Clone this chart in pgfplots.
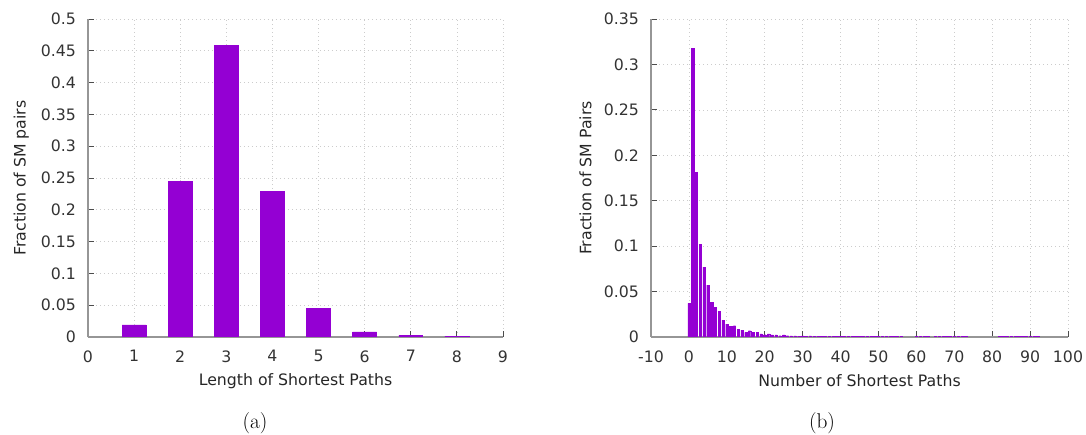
\documentclass[border=0pt]{standalone}
\usepackage{pgfplots}
\pgfplotsset{compat=1.18}
\usepackage{fontspec}
\newfontfamily\dejavu{DejaVu Sans}
\definecolor{gpviolet}{RGB}{148,0,211}
\definecolor{axgray}{RGB}{150,150,150}
\begin{document}
\begin{tikzpicture}
\useasboundingbox (0,0) rectangle (814.5pt,326.25pt);
\pgfplotsset{
  gp/.style={
    scale only axis, height=238.5pt,
    axis lines*=left,
    axis line style={draw=axgray, line width=0.8pt},
    tick align=inside,
    major tick length=4.5pt,
    tick style={draw=black!70, line width=0.6pt},
    grid=major,
    grid style={draw=gray!40, line width=0.5pt, dash pattern=on 0.6pt off 2.4pt},
    /pgf/number format/assume math mode=true,
    /pgf/number format/fixed,
    /pgf/number format/precision=2,
    scaled y ticks=false,
    ticklabel style={font=\dejavu\fontsize{11.8}{13}\selectfont, text=black!80},
    xticklabel style={yshift=-6.5pt},
    yticklabel style={xshift=-5.5pt},
    label style={font=\dejavu\fontsize{11.8}{13}\selectfont, text=black!85},
    ymin=0,
  }
}
% ---- left plot ----
\begin{axis}[gp, width=311.25pt, at={(66pt,73.5pt)}, anchor=south west,
  xmin=0, xmax=9, ymax=0.5,
  xtick={0,1,...,9},
  ytick={0,0.05,0.1,0.15,0.2,0.25,0.3,0.35,0.4,0.45,0.5},
  xlabel={Length of Shortest Paths},
  ylabel={Fraction of SM pairs},
  x label style={at={(axis description cs:0.5,-0.138)}, anchor=center},
  y label style={at={(axis description cs:-0.161,0.5)}, anchor=center},
]
\addplot[ybar, bar width=0.52, fill=gpviolet, draw=gpviolet] coordinates {
(1,0.019) (2,0.245) (3,0.458) (4,0.229) (5,0.045) (6,0.008) (7,0.003) (8,0.0015)
};
\end{axis}
% ---- right plot ----
\begin{axis}[gp, width=312.75pt, at={(488.25pt,73.5pt)}, anchor=south west,
  xmin=-10, xmax=100, ymax=0.35,
  xtick={-10,0,...,100},
  ytick={0,0.05,0.1,0.15,0.2,0.25,0.3,0.35},
  xlabel={Number of Shortest Paths},
  ylabel={Fraction of SM Pairs},
  x label style={at={(axis description cs:0.5,-0.138)}, anchor=center},
  y label style={at={(axis description cs:-0.157,0.5)}, anchor=center},
]
\addplot[ybar, bar width=0.6, fill=gpviolet, draw=gpviolet, line width=0.2pt] coordinates {
(0,0.037) (1,0.318) (2,0.181) (3,0.102) (4,0.077) (5,0.057) (6,0.038) (7,0.033)
(8,0.028) (9,0.0187) (10,0.0143) (11,0.0117) (12,0.0125) (13,0.0088) (14,0.0077)
(15,0.0051) (16,0.0070) (17,0.0051) (18,0.0051) (19,0.0033) (20,0.0026) (21,0.0033)
(22,0.0022) (23,0.0022) (24,0.0015) (25,0.0022) (26,0.0015) (27,0.0012) (28,0.0012)
(29,0.0010) (30,0.0012) (31,0.0010) (32,0.0012) (33,0.0008) (34,0.0007) (35,0.0007)
(36,0.0006) (37,0.0006) (38,0.0006) (39,0.0006) (40,0.0006) (41,0.0005) (42,0.0005)
(43,0.0005) (44,0.0005) (45,0.0005) (46,0.0005) (47,0.0005) (48,0.0005) (49,0.0005)
(50,0.0005) (51,0.0005) (52,0.0005) (53,0.0005) (54,0.0005) (55,0.0005) (56,0.0005)
(60,0.0005) (61,0.0005) (62,0.0005) (63,0.0005)
(65,0.0005) (66,0.0005) (67,0.0005) (68,0.0005) (69,0.0005) (70,0.0005) (71,0.0005) (72,0.0005) (73,0.0005)
(82,0.0005) (83,0.0005) (84,0.0005) (85,0.0005) (86,0.0005) (87,0.0005) (88,0.0005) (89,0.0005) (90,0.0005) (91,0.0005) (92,0.0005)
};
\end{axis}
\node[font=\fontsize{16}{18}\selectfont] at (191.25pt,8.6pt) {(a)};
\node[font=\fontsize{16}{18}\selectfont] at (616.5pt,8.6pt) {(b)};
\end{tikzpicture}
\end{document}
